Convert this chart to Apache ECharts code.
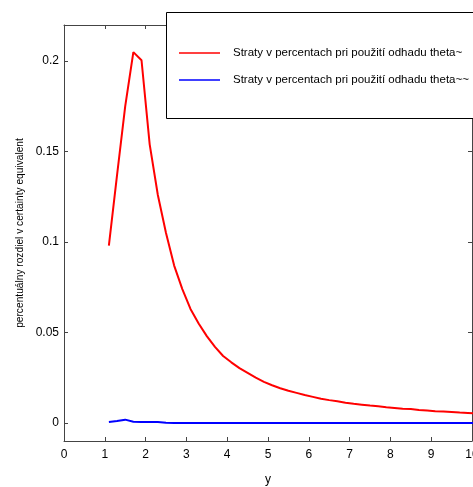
<!DOCTYPE html>
<html>
<head>
<meta charset="utf-8">
<script src="https://cdn.jsdelivr.net/npm/echarts@6/dist/echarts.min.js"></script>
<style>html,body{margin:0;padding:0;background:#fff}#c{width:473px;height:487px}</style>
</head>
<body>
<div id="c"></div>
<script>
const xValues = [1.1,1.3,1.5,1.7,1.9,2.1,2.3,2.5,2.7,2.9,3.1,3.3,3.5,3.7,3.9,4.1,4.3,4.5,4.7,4.9,5.1,5.3,5.5,5.7,5.9,6.1,6.3,6.5,6.7,6.9,7.1,7.3,7.5,7.7,7.9,8.1,8.3,8.5,8.7,8.9,9.1,9.3,9.5,9.7,9.9,10.1];
const redValues = [0.098,0.137,0.175,0.205,0.2005,0.154,0.126,0.105,0.087,0.074,0.063,0.055,0.048,0.042,0.037,0.0335,0.0303,0.0277,0.025,0.0227,0.0208,0.0192,0.0178,0.0166,0.0154,0.0144,0.0134,0.0126,0.012,0.0112,0.0106,0.0101,0.0096,0.0092,0.0087,0.0083,0.0078,0.0077,0.0072,0.0068,0.0064,0.0063,0.006,0.0057,0.0055,0.0053];
const blueValues = [0.0005,0.001,0.0018,0.0006,0.0005,0.0005,0.0005,0.0001,0,0,0,0,0,0,0,0,0,0,0,0,0,0,0,0,0,0,0,0,0,0,0,0,0,0,0,0,0,0,0,0,0,0,0,0,0,0];
const seriesNames = ['Straty v percentach pri použití odhadu theta~','Straty v percentach pri použití odhadu theta~~'];
const xLabel = 'y';
const yLabel = 'percentuálny rozdiel v certainty equivalent';

const font = 'Liberation Sans, Arial, sans-serif';
const axisColor = '#444';
const chart = echarts.init(document.getElementById('c'), null, {renderer:'canvas'});
const pair = (xs, ys) => xs.map((x,i)=>[x, ys[i]]);
const baseX = {type:'value', min:0, max:10, interval:1,
  axisLine:{show:true, onZero:false, lineStyle:{color:axisColor, width:1}},
  axisTick:{show:true, inside:true, length:4, lineStyle:{color:axisColor}},
  splitLine:{show:false}};
const baseY = {type:'value', min:-0.01, max:0.22, interval:0.05,
  axisLine:{show:true, onZero:false, lineStyle:{color:axisColor, width:1}},
  axisTick:{show:true, inside:true, length:4, lineStyle:{color:axisColor}},
  splitLine:{show:false}};
chart.setOption({
  animation:false,
  backgroundColor:'#fff',
  grid:{left:64, right:1, top:25, bottom:46, containLabel:false, outerBoundsMode:'none'},
  xAxis:[
    Object.assign({}, baseX, {position:'bottom', name:xLabel, nameLocation:'middle', nameGap:33,
      nameTextStyle:{fontFamily:font, fontSize:12, color:'#000'},
      axisLabel:{fontFamily:font, fontSize:12, color:'#000', margin:8}}),
    Object.assign({}, baseX, {position:'top', axisLabel:{show:false}})
  ],
  yAxis:[
    Object.assign({}, baseY, {position:'left', name:yLabel, nameLocation:'middle', nameGap:39,
      nameTextStyle:{fontFamily:font, fontSize:10.2, color:'#000'},
      axisLabel:{fontFamily:font, fontSize:12, color:'#000', margin:5,
        customValues:[0,0.05,0.1,0.15,0.2],
        formatter:v=>String(Math.round(v*100)/100)},
      axisTick:{show:true, inside:true, length:4, lineStyle:{color:axisColor}, customValues:[0,0.05,0.1,0.15,0.2]}}),
    Object.assign({}, baseY, {position:'right', axisLabel:{show:false},
      axisTick:{show:true, inside:true, length:4, lineStyle:{color:axisColor}, customValues:[0,0.05,0.1,0.15,0.2]}})
  ],
  graphic:[{type:'rect', left:166, top:12, z:50, shape:{width:330, height:106},
    style:{fill:'#fff', stroke:'#000', lineWidth:1}}],
  legend:{orient:'vertical', left:174, top:41, z:100, itemWidth:41, itemHeight:1.5, itemGap:13, icon:'rect',
    textStyle:{fontFamily:font, fontSize:11.5, color:'#000', padding:[0,0,0,8], lineHeight:14},
    data:seriesNames},
  series:[
    {name:seriesNames[0], type:'line', data:pair(xValues, redValues), symbol:'none', showSymbol:false,
      lineStyle:{color:'#ff0000', width:2}, itemStyle:{color:'#ff0000'}, clip:true},
    {name:seriesNames[1], type:'line', data:pair(xValues, blueValues), symbol:'none', showSymbol:false,
      lineStyle:{color:'#0000ff', width:2}, itemStyle:{color:'#0000ff'}, clip:true}
  ]
});
</script>
</body>
</html>
